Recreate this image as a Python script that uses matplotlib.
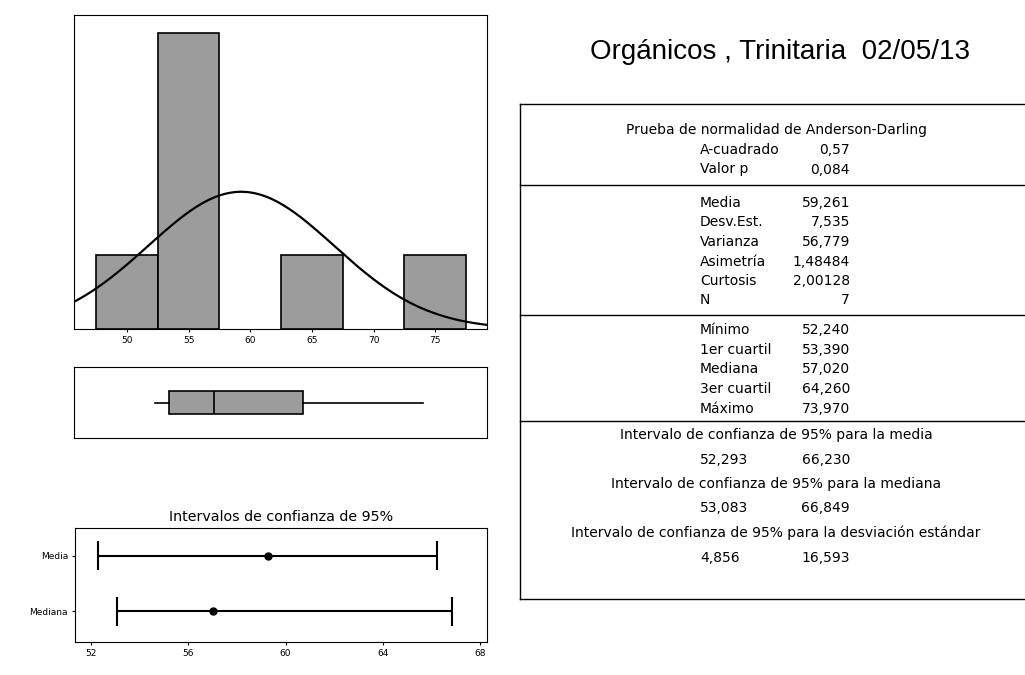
import numpy as np
import matplotlib.pyplot as plt
import matplotlib as mpl
mpl.style.use('default')

# Data
bin_centers = [50, 55, 65, 75]
bin_counts = [1, 4, 1, 1]
bin_width = 5
media, desv, n_obs = 59.261, 7.535, 7
box_stats = {'whislo': 52.240, 'q1': 53.390, 'med': 57.020, 'q3': 64.260, 'whishi': 73.970}
ci_labels = ['Mediana', 'Media']
ci_center = [57.020, 59.261]
ci_low = [53.083, 52.293]
ci_high = [66.849, 66.230]

title = "Orgánicos , Trinitaria  02/05/13"
ad_rows = [("A-cuadrado", "0,57"), ("Valor p", "0,084")]
mom_rows = [("Media", "59,261"), ("Desv.Est.", "7,535"), ("Varianza", "56,779"),
            ("Asimetría", "1,48484"), ("Curtosis", "2,00128"), ("N", "7")]
quant_rows = [("Mínimo", "52,240"), ("1er cuartil", "53,390"), ("Mediana", "57,020"),
              ("3er cuartil", "64,260"), ("Máximo", "73,970")]
ci_rows = [("Intervalo de confianza de 95% para la media", "52,293", "66,230"),
           ("Intervalo de confianza de 95% para la mediana", "53,083", "66,849"),
           ("Intervalo de confianza de 95% para la desviación estándar", "4,856", "16,593")]

W, H = 1025, 675
fig = plt.figure(figsize=(W / 100, H / 100), dpi=100)

def px_axes(l, t, r, b):
    return fig.add_axes([l / W, 1 - b / H, (r - l) / W, (b - t) / H])

bar_col = '#9c9c9c'
xlim = (45.7, 79.2)

# Histogram
ax1 = px_axes(74, 15, 487, 329)
ax1.bar(bin_centers, bin_counts, width=bin_width, color=bar_col, edgecolor='black', linewidth=1.2)
xs = np.linspace(xlim[0], xlim[1], 300)
ys = n_obs * bin_width * np.exp(-0.5 * ((xs - media) / desv) ** 2) / (desv * np.sqrt(2 * np.pi))
ax1.plot(xs, ys, color='black', lw=1.6)
ax1.set_xlim(xlim)
ax1.set_ylim(0, 4.24)
ax1.set_yticks([])
ax1.set_xticks([50, 55, 60, 65, 70, 75])
ax1.tick_params(axis='x', labelsize=6.5, length=2, pad=3)

# Boxplot
ax2 = px_axes(74, 367, 487, 438)
ax2.bxp([dict(box_stats, fliers=[])], vert=False, positions=[0], widths=0.62,
        showcaps=False, patch_artist=True,
        boxprops=dict(facecolor=bar_col, edgecolor='black', linewidth=1.2),
        medianprops=dict(color='black', linewidth=1.2),
        whiskerprops=dict(color='black', linewidth=1.2))
ax2.set_xlim(xlim)
ax2.set_ylim(-1, 1)
ax2.set_xticks([])
ax2.set_yticks([])

# Confidence intervals
ax3 = px_axes(75, 528, 487, 642)
ypos = np.arange(1, len(ci_labels) + 1)
ax3.hlines(ypos, ci_low, ci_high, color='black', lw=1.5)
ax3.vlines(ci_low, ypos - 0.26, ypos + 0.26, color='black', lw=1.5)
ax3.vlines(ci_high, ypos - 0.26, ypos + 0.26, color='black', lw=1.5)
ax3.plot(ci_center, ypos, 'o', color='black', ms=5)
ax3.set_xlim(51.35, 68.28)
ax3.set_ylim(0.45, 2.5)
ax3.set_yticks(ypos)
ax3.set_yticklabels(ci_labels)
ax3.set_xticks([52, 56, 60, 64, 68])
ax3.tick_params(labelsize=6.5, length=2, pad=3)
ax3.set_title("Intervalos de confianza de 95%", fontsize=10.3, pad=5)

# Title
fig.text(780 / W, 1 - 52 / H, title, fontsize=20, family='Liberation Sans',
         ha='center', va='center')

# Summary table (pixel overlay)
tx = fig.add_axes([0, 0, 1, 1])
tx.set_xlim(0, W)
tx.set_ylim(H, 0)
tx.axis('off')
lw = 1.0
tx.plot([520, W], [104, 104], color='black', lw=lw)
tx.plot([520, W], [599, 599], color='black', lw=lw)
tx.plot([520, 520], [104, 599], color='black', lw=lw)
for yy in [185, 315, 421]:
    tx.plot([520, W], [yy, yy], color='black', lw=lw)

fs = 10
cx, lx, rx = 776, 700, 850
tx.text(cx, 130, "Prueba de normalidad de Anderson-Darling", fontsize=fs, ha='center', va='center')
y = 150
for lab, val in ad_rows:
    tx.text(lx, y, lab, fontsize=fs, ha='left', va='center')
    tx.text(rx, y, val, fontsize=fs, ha='right', va='center')
    y += 19.5
y = 203
for lab, val in mom_rows:
    tx.text(lx, y, lab, fontsize=fs, ha='left', va='center')
    tx.text(rx, y, val, fontsize=fs, ha='right', va='center')
    y += 19.5
y = 330
for lab, val in quant_rows:
    tx.text(lx, y, lab, fontsize=fs, ha='left', va='center')
    tx.text(rx, y, val, fontsize=fs, ha='right', va='center')
    y += 19.7
y = 435
for lab, lo, hi in ci_rows:
    tx.text(cx, y, lab, fontsize=fs, ha='center', va='center')
    tx.text(lx, y + 24.5, lo, fontsize=fs, ha='left', va='center')
    tx.text(rx, y + 24.5, hi, fontsize=fs, ha='right', va='center')
    y += 49

fig.savefig('out.png', dpi=100)
